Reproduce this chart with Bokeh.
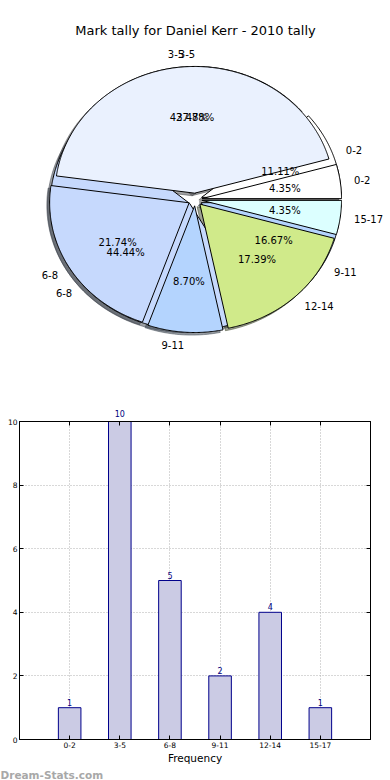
import numpy as np
from bokeh.plotting import figure
from bokeh.models import (Range1d, FixedTicker, ColumnDataSource,
                          Label, LinearAxis, Title)
from bokeh.core.properties import value
from bokeh.embed import file_html
from bokeh.resources import INLINE

# ---------------- data ----------------
TITLE = "Mark tally for Daniel Kerr - 2010 tally"
categories = ["0-2", "3-5", "6-8", "9-11", "12-14", "15-17"]
tally_2010 = [1, 10, 5, 2, 4, 1]
slice_colors = ["#ffffff", "#eaf1fe", "#c6d9fd", "#b4d4fe", "#d0ea8a", "#dcffff"]

# second (overlaid) pie
second_categories = ["0-2", "3-5", "6-8", "9-11"]
second_tally = [2, 5, 8, 3]
second_colors = ["#ffffff", "#eaf1fe", "#c6d9fd", "#b4d4fe"]

bar_xlabel = "Frequency"
y_ticks = [0, 2, 4, 6, 8, 10]
Y_MAX = 10
watermark = "Dream-Stats.com"

FONT_NAME = "DejaVu Sans"
FONT = value(FONT_NAME)
EXPLODE = 0.05


def pie_geometry(vals):
    vals = np.asarray(vals, dtype=float)
    edges = np.concatenate([[0.0], np.cumsum(vals / vals.sum()) * 360.0])
    res = []
    for t1, t2 in zip(edges[:-1], edges[1:]):
        mid = np.radians((t1 + t2) / 2.0)
        cx, cy = EXPLODE * np.cos(mid), EXPLODE * np.sin(mid)
        t = np.radians(np.linspace(t1, t2, max(int(t2 - t1) * 2 + 2, 4)))
        xs = np.concatenate([[cx], cx + np.cos(t)])
        ys = np.concatenate([[cy], cy + np.sin(t)])
        res.append(dict(xs=xs, ys=ys, mid=mid, cx=cx, cy=cy))
    return res


def shadow_color(hexc):
    h = hexc.lstrip("#")
    r, g, b = (int(h[i:i + 2], 16) for i in (0, 2, 4))
    return "#%02x%02x%02x" % (int(r * 0.3), int(g * 0.3), int(b * 0.3))


def pct_texts(vals):
    tot = float(sum(vals))
    return ["%.2f%%" % (100.0 * v / tot) for v in vals]


geoA = pie_geometry(tally_2010)
geoB = pie_geometry(second_tally)

# ---------------- pie figure ----------------
p1 = figure(width=390, height=400, x_range=Range1d(-1.395, 1.4007),
            y_range=Range1d(-1.5864, 1.5706), x_axis_type=None, y_axis_type=None,
            output_backend="svg", toolbar_location=None, min_border=0,
            min_border_left=0, min_border_right=0, min_border_top=0,
            min_border_bottom=0)
p1.grid.visible = False
p1.outline_line_color = None

# shadows (below everything)
for geo, cols in ((geoB, second_colors), (geoA, slice_colors)):
    sc = [shadow_color(c) for c in cols]
    p1.patches(xs=[g["xs"] - 0.02 for g in geo], ys=[g["ys"] - 0.02 for g in geo],
               fill_color=sc, fill_alpha=0.5, line_color=sc, line_alpha=0.5)

# second pie then main pie on top
for geo, cols in ((geoB, second_colors), (geoA, slice_colors)):
    p1.patches(xs=[g["xs"] for g in geo], ys=[g["ys"] for g in geo],
               fill_color=cols, line_color="black", line_width=1)


def add_texts(geo, labels, pcts):
    lx, ly, la, px, py = [], [], [], [], []
    for g in geo:
        x = g["cx"] + 1.1 * np.cos(g["mid"])
        y = g["cy"] + 1.1 * np.sin(g["mid"])
        lx.append(x); ly.append(y); la.append("left" if x > 1e-9 else "right")
        px.append(g["cx"] + 0.6 * np.cos(g["mid"]))
        py.append(g["cy"] + 0.6 * np.sin(g["mid"]))
    p1.text(x=lx, y=ly, text=labels, text_align=la, text_baseline="middle",
            text_font=FONT, text_font_size="10px", text_color="black")
    p1.text(x=px, y=py, text=pcts, text_align="center", text_baseline="middle",
            text_font=FONT, text_font_size="10px", text_color="black")


add_texts(geoA, categories, pct_texts(tally_2010))
add_texts(geoB, second_categories, pct_texts(second_tally))

p1.text(x=[0.003], y=[1.334], text=[TITLE], text_align="center",
        text_baseline="middle", text_font=FONT, text_font_size="13px",
        text_color="black")

# ---------------- bar figure ----------------
positions = list(range(1, len(categories) + 1))
p2 = figure(width=390, height=380, x_range=Range1d(0, 7), y_range=Range1d(0, Y_MAX),
            output_backend="svg", toolbar_location=None,
            min_border_left=19, min_border_right=20, min_border_top=21,
            min_border_bottom=38)
p2.background_fill_color = "white"
p2.outline_line_color = "black"
p2.outline_line_width = 1

src = ColumnDataSource(dict(x=positions, top=tally_2010))
p2.vbar(x="x", top="top", width=0.45, source=src, fill_color="#cbcbe4",
        line_color="#00008b", line_width=1)
# value labels inside the frame
for xpos, v in zip(positions, tally_2010):
    if v < Y_MAX:
        p2.add_layout(Label(x=xpos, y=v, text=str(v), y_offset=2,
                            text_align="center", text_baseline="bottom",
                            text_font=FONT_NAME, text_font_size="8px",
                            text_color="#000080"))

xa = p2.xaxis[0]
xa.ticker = FixedTicker(ticks=positions)
xa.major_label_overrides = {pos: c for pos, c in zip(positions, categories)}
ya = p2.yaxis[0]
ya.ticker = FixedTicker(ticks=y_ticks)
for ax in (xa, ya):
    ax.major_tick_in = 4
    ax.major_tick_out = 0
    ax.minor_tick_line_color = None
    ax.axis_line_color = "black"
    ax.major_tick_line_color = "black"
    ax.major_label_text_font = FONT_NAME
    ax.major_label_text_font_size = "7.5px"
    ax.major_label_text_color = "black"
xa.major_label_standoff = 2
ya.major_label_standoff = 2
xa.axis_label = bar_xlabel
xa.axis_label_text_font = FONT_NAME
xa.axis_label_text_font_size = "10.5px"
xa.axis_label_text_font_style = "normal"
xa.axis_label_text_color = "black"
xa.axis_label_standoff = 1

# top axis: tick marks at bars; value labels of bars that reach the frame top
top_ax = LinearAxis(ticker=FixedTicker(ticks=positions),
                    major_label_overrides={pos: (str(v) if v >= Y_MAX else "")
                                           for pos, v in zip(positions, tally_2010)},
                    major_label_text_font=FONT_NAME, major_label_text_font_size="8px",
                    major_label_text_color="#000080",
                    major_tick_in=4, major_tick_out=0, minor_tick_line_color=None,
                    major_label_standoff=5, axis_line_color="black")
right_ax = LinearAxis(ticker=FixedTicker(ticks=y_ticks), major_label_text_font_size="0px",
                      major_tick_in=4, major_tick_out=0, minor_tick_line_color=None,
                      major_label_standoff=0, axis_line_color="black")
p2.add_layout(top_ax, "above")
p2.add_layout(right_ax, "right")

for g in (p2.xgrid[0], p2.ygrid[0]):
    g.grid_line_color = "#b0b0b0"
    g.grid_line_dash = "1 2"
    g.grid_line_width = 1
p2.xgrid[0].ticker = FixedTicker(ticks=positions)
p2.ygrid[0].ticker = FixedTicker(ticks=y_ticks)

p2.add_layout(Title(text=watermark, align="left", offset=-19, standoff=0,
                    text_font=FONT_NAME, text_font_size="10.5px",
                    text_font_style="bold", text_color="#a8a8a8"), "below")

open("out.html", "w").write(file_html([p1, p2], INLINE))
